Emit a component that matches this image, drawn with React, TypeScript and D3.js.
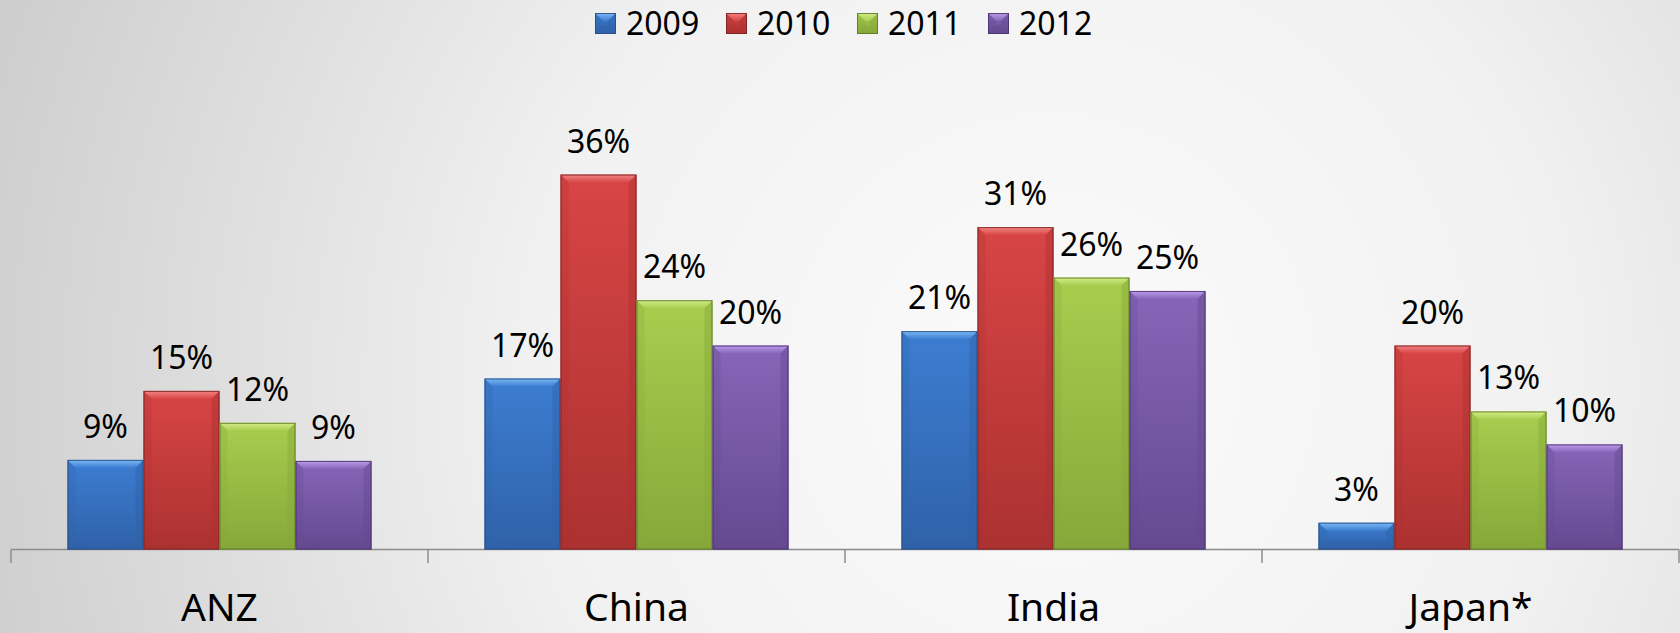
import React from "react";
import * as d3 from "d3";

const categories = ["ANZ", "China", "India", "Japan*"];
const seriesNames = ["2009", "2010", "2011", "2012"];
const values2009 = [8.7, 16.6, 21.2, 2.6];
const values2010 = [15.4, 36.4, 31.3, 19.8];
const values2011 = [12.3, 24.2, 26.4, 13.4];
const values2012 = [8.6, 19.8, 25.1, 10.2];
const seriesValues = [values2009, values2010, values2011, values2012];

const palette = [
  { body: "#3d7dd2", dark: "#2f62a8", light: "#7cbaf4", border: "#284c80" },
  { body: "#d84545", dark: "#ac3131", light: "#f28585", border: "#772121" },
  { body: "#a8cd4e", dark: "#86a83a", light: "#d3ee8a", border: "#5c7625" },
  { body: "#8666b8", dark: "#654990", light: "#bc9cea", border: "#46316c" },
];

const W = 1680;
const H = 633;
const FONT = "'Noto Sans', 'Open Sans', sans-serif";

function Bar({ x, y, w, h, c, id }) {
  const b = Math.min(8, h / 2, w / 2);
  const pts = (arr) => arr.map((p) => p.join(",")).join(" ");
  return (
    <g>
      <rect x={x} y={y} width={w} height={h} fill={`url(#body${id})`} />
      <polygon
        points={pts([[x, y], [x + w, y], [x + w - b, y + b], [x + b, y + b]])}
        fill={`url(#top${id})`}
      />
      <polygon
        points={pts([[x, y], [x + b, y + b], [x + b, y + h - b], [x, y + h]])}
        fill={c.dark}
        opacity={0.25}
      />
      <polygon
        points={pts([[x + w, y], [x + w - b, y + b], [x + w - b, y + h - b], [x + w, y + h]])}
        fill={c.dark}
        opacity={0.45}
      />
      <polygon
        points={pts([[x, y + h], [x + b, y + h - b], [x + w - b, y + h - b], [x + w, y + h]])}
        fill={c.dark}
        opacity={0.5}
      />
      <rect x={x + 0.5} y={y + 0.5} width={w - 1} height={h - 1} fill="none" stroke={c.border} strokeWidth={1} strokeOpacity={0.85} />
    </g>
  );
}

export default function App() {
  const x0 = d3.scaleBand().domain(categories).range([11, 1679]).paddingInner(0).paddingOuter(0);
  const x1 = d3
    .scaleBand()
    .domain(seriesNames)
    .range([0, x0.bandwidth()])
    .paddingInner(0)
    .paddingOuter(0.743);
  const y = d3.scaleLinear().domain([0, 40]).range([549.5, 137.5]);
  const baseline = y(0);

  const legendX0 = 595;
  const legendStep = 131;

  return (
    <svg
      width={W}
      height={H}
      style={{ position: "absolute", left: 0, top: 0, display: "block" }}
      fontFamily={FONT}
    >
      <defs>
        <radialGradient id="bg" cx="1050" cy="380" r="1150" gradientUnits="userSpaceOnUse">
          <stop offset="0" stopColor="#fbfbfb" />
          <stop offset="0.45" stopColor="#f1f1f1" />
          <stop offset="1" stopColor="#cbcbcb" />
        </radialGradient>
        {palette.map((c, i) => (
          <React.Fragment key={i}>
            <linearGradient id={`body${i}`} x1="0" y1="0" x2="0" y2="1">
              <stop offset="0" stopColor={c.body} />
              <stop offset="1" stopColor={c.dark} />
            </linearGradient>
            <linearGradient id={`top${i}`} x1="0" y1="0" x2="0" y2="1">
              <stop offset="0" stopColor={c.light} />
              <stop offset="1" stopColor={c.body} />
            </linearGradient>
          </React.Fragment>
        ))}
      </defs>
      <rect x={0} y={0} width={W} height={H} fill="url(#bg)" />

      {/* legend */}
      {seriesNames.map((s, i) => {
        const lx = legendX0 + i * legendStep;
        return (
          <g key={s}>
            <Bar x={lx} y={13} w={21} h={21} c={palette[i]} id={i} />
            <text x={lx + 31} y={35} fontSize={32} fill="#000">
              {s}
            </text>
          </g>
        );
      })}

      {/* axis */}
      <line x1={11} x2={1679} y1={baseline} y2={baseline} stroke="#8c8c8c" strokeWidth={1.5} />
      {[...categories.map((c) => x0(c)), 1679].map((tx, i) => (
        <line key={i} x1={tx} x2={tx} y1={baseline} y2={563} stroke="#8c8c8c" strokeWidth={1.5} />
      ))}

      {/* bars */}
      {categories.map((cat, ci) => (
        <g key={cat}>
          {seriesNames.map((s, si) => {
            const v = seriesValues[si][ci];
            const bx = x0(cat) + x1(s);
            const by = y(v);
            return (
              <Bar key={s} x={bx} y={by} w={x1.bandwidth()} h={baseline - by} c={palette[si]} id={si} />
            );
          })}
        </g>
      ))}

      {/* data labels */}
      {categories.map((cat, ci) =>
        seriesNames.map((s, si) => {
          const v = seriesValues[si][ci];
          const cx = x0(cat) + x1(s) + x1.bandwidth() / 2;
          return (
            <text key={cat + s} x={cx} y={y(v) - 22} fontSize={32} textAnchor="middle" fill="#000">
              {`${Math.round(v)}%`}
            </text>
          );
        })
      )}

      {/* category labels */}
      {categories.map((cat) => (
        <text key={cat} x={x0(cat) + x0.bandwidth() / 2} y={621} fontSize={39} textAnchor="middle" fill="#000">
          {cat}
        </text>
      ))}
    </svg>
  );
}
